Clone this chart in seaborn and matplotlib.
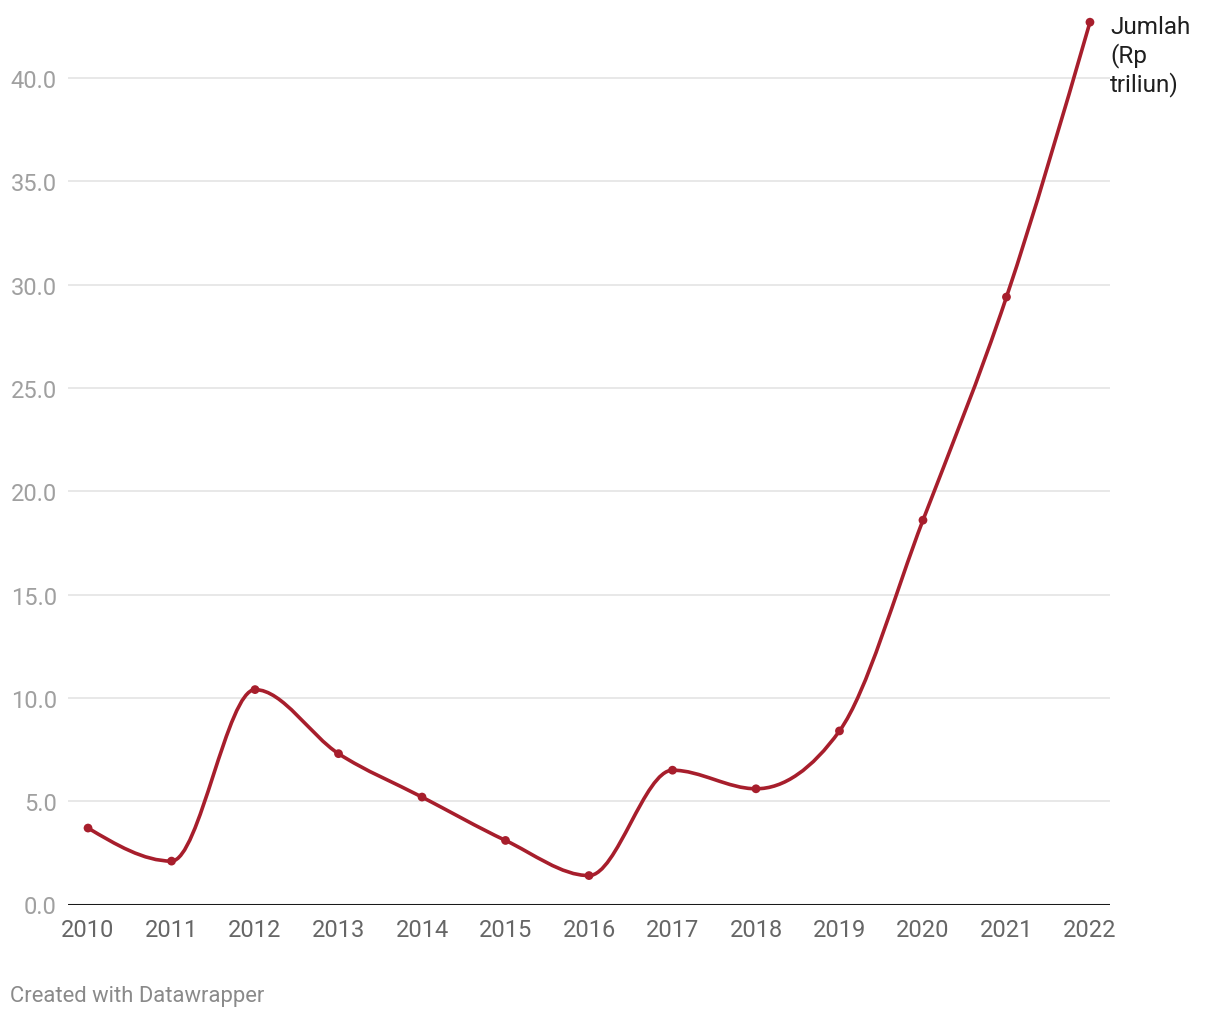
import numpy as np
import pandas as pd
import matplotlib
matplotlib.use("Agg")
import matplotlib.pyplot as plt
from matplotlib.path import Path
from matplotlib.patches import PathPatch
import seaborn as sns

years = [2010, 2011, 2012, 2013, 2014, 2015, 2016, 2017, 2018, 2019, 2020, 2021, 2022]
values = [3.7, 2.1, 10.4, 7.3, 5.2, 3.1, 1.4, 6.5, 5.6, 8.4, 18.6, 29.4, 42.7]
series_label = "Jumlah\n(Rp\ntriliun)"
y_ticks = [0, 5, 10, 15, 20, 25, 30, 35, 40]

sns.set_theme(style="white")
plt.rcParams['font.family'] = ['Roboto', 'DejaVu Sans']

RED = '#a71e2c'
df = pd.DataFrame({"year": years, "value": values})

fig = plt.figure(figsize=(12.2, 10.2), dpi=100)
ax = fig.add_axes([68/1220, 114.5/1020, (1110-68)/1220, (904-15.5)/1020])

# monotone-x cubic path (like d3.curveMonotoneX) through the data points
x = np.array(years, dtype=float)
y = np.array(values, dtype=float)
n = len(x)
h = np.diff(x)
s = np.diff(y) / h
t = np.zeros(n)
for i in range(1, n - 1):
    p = (s[i-1] * h[i] + s[i] * h[i-1]) / (h[i-1] + h[i])
    t[i] = (np.sign(s[i-1]) + np.sign(s[i])) * min(abs(s[i-1]), abs(s[i]), 0.5 * abs(p))
t[0] = (3 * s[0] - t[1]) / 2
t[-1] = (3 * s[-1] - t[-2]) / 2
verts = [(x[0], y[0])]
codes = [Path.MOVETO]
for i in range(n - 1):
    dx = (x[i+1] - x[i]) / 3
    verts += [(x[i] + dx, y[i] + dx * t[i]), (x[i+1] - dx, y[i+1] - dx * t[i+1]), (x[i+1], y[i+1])]
    codes += [Path.CURVE4] * 3

for v in y_ticks[1:]:
    ax.axhline(v, color='#e2e2e2', lw=1.1, zorder=0)
ax.axhline(0, color='#1a1a1a', lw=2.2, zorder=1)

ax.add_patch(PathPatch(Path(verts, codes), facecolor='none', edgecolor=RED, lw=2.6,
                       capstyle='round', joinstyle='round', zorder=3))
sns.scatterplot(data=df, x="year", y="value", ax=ax, color=RED, s=40, edgecolor='none', zorder=4)

ax.set_xlim(2009.76, 2022.24)
ax.set_ylim(0, 43.0)
ax.set_xticks(years)
ax.set_xticklabels([str(v) for v in years], fontsize=17, color='#666666')
ax.set_yticks(y_ticks)
ax.set_yticklabels([f"{v:.1f}" for v in y_ticks], fontsize=17, color='#a0a0a0')
ax.tick_params(axis='x', length=0, pad=10)
ax.tick_params(axis='y', length=0, pad=8)
ax.set_xlabel("")
ax.set_ylabel("")
for sp in ax.spines.values():
    sp.set_visible(False)

ax.text(2022.0 + 20/83.5, values[-1] + 0.35, series_label, fontsize=17.5, color='#1f1f1f',
        va='top', ha='left', linespacing=1.2, clip_on=False)

fig.text(10/1220, 1 - 997/1020, "Created with Datawrapper", fontsize=15.8, color='#8a8a8a',
         ha='left', va='center')

fig.savefig("out.png", dpi=100, facecolor='white')
